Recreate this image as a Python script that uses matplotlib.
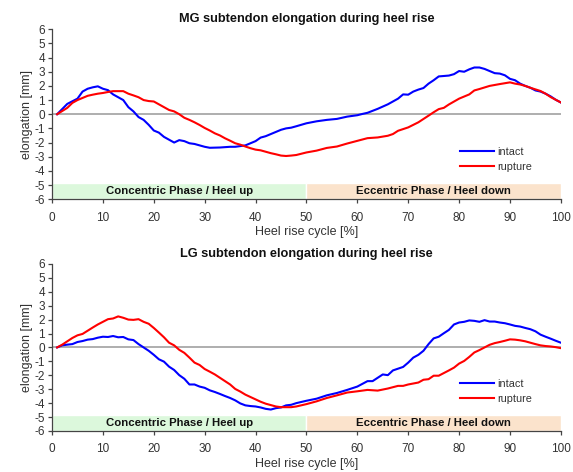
import matplotlib
matplotlib.use("Agg")
import matplotlib.pyplot as plt
from matplotlib.patches import Rectangle

plt.rcParams["font.family"] = ["Liberation Sans", "DejaVu Sans"]
plt.rcParams["axes.unicode_minus"] = False

# ── MG subtendon ──
mg_intact_x = [1, 3, 5, 6, 7, 8, 9, 10, 11, 12, 13, 14, 15, 16, 17, 18, 19, 20,
               21, 22, 23, 24, 25, 26, 27, 28, 29, 30, 31, 33, 35,
               36, 37, 38, 39, 40, 41, 42, 43, 44, 45, 46, 47, 48,
               50, 52, 54, 56, 58, 60, 61, 62, 64, 66, 68,
               69, 70, 71, 72, 73, 74, 75, 76, 77, 78, 79, 80, 81, 82, 83, 84,
               85, 86, 87, 88, 89, 90, 91, 92, 93, 94, 95, 96, 97, 98, 99, 100]
mg_intact_y = [0, 0.73, 1.1, 1.6, 1.8, 1.9, 1.97, 1.8, 1.7, 1.4, 1.2, 1.0, 0.5, 0.2,
               -0.2, -0.4, -0.75, -1.15, -1.3, -1.6, -1.8, -2.0, -1.83, -1.9, -2.05,
               -2.1, -2.2, -2.3, -2.37, -2.35, -2.3,
               -2.3, -2.25, -2.2, -2.05, -1.9, -1.65, -1.55, -1.4, -1.25, -1.1, -1.0,
               -0.95, -0.85,
               -0.64, -0.5, -0.4, -0.33, -0.17, -0.07, 0.02, 0.1, 0.38, 0.7, 1.1,
               1.4, 1.38, 1.6, 1.74, 1.85, 2.16, 2.4, 2.67, 2.7, 2.73, 2.83, 3.05,
               3.0, 3.17, 3.3, 3.3, 3.2, 3.05, 2.9, 2.87, 2.75, 2.5, 2.4, 2.16, 2.0,
               1.87, 1.68, 1.6, 1.45, 1.26, 1.02, 0.83]

mg_rupture_x = [1, 3] + list(range(4, 49)) + [
    50, 52, 54, 56, 58, 60, 62, 64, 66, 67, 68, 70, 72, 74, 75, 76, 77, 78, 80,
    82, 83, 84, 86, 88, 90, 91, 92, 93, 94, 96, 97, 98, 100]
mg_rupture_y = [0, 0.45,
                0.8, 1.0, 1.15, 1.3, 1.38, 1.45, 1.5, 1.57, 1.63, 1.63, 1.63, 1.45,
                1.33, 1.2, 1.0, 0.93, 0.9, 0.7, 0.5, 0.3, 0.2, 0, -0.25, -0.4, -0.57,
                -0.76, -0.97, -1.15, -1.35, -1.5, -1.7, -1.87, -2.05, -2.15, -2.28,
                -2.4, -2.5, -2.55, -2.65, -2.75, -2.83, -2.92, -2.95, -2.92, -2.88,
                -2.7, -2.57, -2.38, -2.28, -2.07, -1.88, -1.69, -1.64, -1.52, -1.4,
                -1.17, -0.93, -0.57, -0.1, 0.14, 0.36, 0.45, 0.69, 1.1, 1.4, 1.68,
                1.78, 2.0, 2.13, 2.25, 2.16, 2.1, 2.0, 1.87, 1.64, 1.45, 1.21, 0.83]

# ── LG subtendon ──
lg_intact_x = list(range(1, 49)) + [50, 52, 54, 56, 58, 60, 62, 63, 65, 66, 67, 69] \
    + list(range(70, 101))
lg_intact_y = [0, 0.15, 0.2, 0.24, 0.39, 0.46, 0.56, 0.6, 0.7, 0.77, 0.75, 0.82,
               0.73, 0.75, 0.58, 0.53, 0.24, 0, -0.24, -0.53, -0.85, -1.02, -1.38,
               -1.62, -1.99, -2.25, -2.66, -2.66, -2.81, -2.9, -3.08, -3.2, -3.34,
               -3.49, -3.63, -3.8, -4.02, -4.16, -4.21, -4.24, -4.31, -4.41, -4.46,
               -4.36, -4.31, -4.16, -4.12, -4.0,
               -3.83, -3.68, -3.44, -3.27, -3.05, -2.81, -2.42, -2.42, -1.94, -1.99,
               -1.65, -1.4,
               -1.09, -0.73, -0.53, -0.24, 0.24, 0.65, 0.77, 1.02, 1.26, 1.65, 1.79,
               1.84, 1.94, 1.91, 1.84, 1.96, 1.86, 1.86, 1.79, 1.74, 1.65, 1.55, 1.5,
               1.4, 1.31, 1.16, 0.92, 0.77, 0.63, 0.48, 0.34]

lg_rupture_x = list(range(1, 49)) + [50, 52, 54, 56, 58, 60, 62, 64, 66, 68, 69, 70,
                                     72, 73, 74, 75, 76] + list(range(78, 101))
lg_rupture_y = [0, 0.2, 0.44, 0.68, 0.87, 0.97, 1.2, 1.43, 1.65, 1.84, 2.03, 2.08,
                2.23, 2.13, 2.0, 1.98, 2.03, 1.84, 1.7, 1.4, 1.07, 0.73, 0.34, 0.15,
                -0.17, -0.39, -0.73, -1.09, -1.26, -1.55, -1.74, -1.94, -2.18, -2.42,
                -2.66, -2.98, -3.17, -3.39, -3.56, -3.73, -3.9, -4.04, -4.14, -4.24,
                -4.29, -4.29, -4.29, -4.24,
                -4.07, -3.87, -3.63, -3.44, -3.24, -3.15, -3.05, -3.1, -2.95, -2.76,
                -2.76, -2.66, -2.52, -2.32, -2.28, -2.03, -2.03,
                -1.65, -1.45, -1.16, -0.97, -0.68, -0.36, -0.19, 0, 0.19, 0.31, 0.39,
                0.48, 0.58, 0.56, 0.51, 0.44, 0.34, 0.24, 0.15, 0.1, 0.07, 0.02, -0.05]

titles = ["MG subtendon elongation during heel rise",
          "LG subtendon elongation during heel rise"]
phase_labels = ["Concentric Phase / Heel up", "Eccentric Phase / Heel down"]
phase_spans = [(0, 50), (50, 100)]
phase_colors = ["#dcf8dc", "#fbe3cc"]

TXT = "#333333"


def draw_panel(ax, title, ix, iy, rx, ry):
    band_lo, band_hi = -6, -4.85
    for (a, b), col, lab in zip(phase_spans, phase_colors, phase_labels):
        ax.add_patch(Rectangle((a, band_lo), b - a, band_hi - band_lo,
                               facecolor=col, edgecolor="white", lw=1.0, zorder=1))
        ax.text((a + b) / 2, (band_lo + band_hi) / 2, lab, ha="center", va="center",
                fontsize=8.2, fontweight="bold", color="#111111", zorder=2)
    ax.axhline(0, color="#a8a8a8", lw=1.3, zorder=2)
    ax.plot(ix, iy, color="#0000ff", lw=1.5, label="intact", zorder=3)
    ax.plot(rx, ry, color="#ff0000", lw=1.5, label="rupture", zorder=3)

    ax.set_xlim(0, 100)
    ax.set_ylim(-6, 6)
    ax.set_xticks(range(0, 101, 10))
    ax.set_yticks(range(-6, 7))
    ax.spines["top"].set_visible(False)
    ax.spines["right"].set_visible(False)
    for s in ("left", "bottom"):
        ax.spines[s].set_color("#444444")
        ax.spines[s].set_linewidth(0.9)
    ax.tick_params(direction="out", length=3, width=0.9, color="#444444",
                   labelsize=8.5, labelcolor=TXT, pad=2)
    ax.tick_params(axis="x", pad=6)
    ax.set_title(title, fontsize=9.2, fontweight="bold", color="#111111", pad=5)
    ax.set_xlabel("Heel rise cycle [%]", fontsize=9, color=TXT, labelpad=2)
    ax.set_ylabel("elongation [mm]", fontsize=9, color=TXT, labelpad=1)
    ax.legend(loc="lower right", bbox_to_anchor=(0.955, 0.13), frameon=False,
              fontsize=7.8, handlelength=3.2, handletextpad=0.3, labelspacing=0.45,
              borderpad=0, labelcolor=TXT)


fig = plt.figure(figsize=(5.73, 4.72), dpi=100)
ax1 = fig.add_axes([0.0908, 0.578, 0.888, 0.360])
ax2 = fig.add_axes([0.0908, 0.0869, 0.888, 0.354])
draw_panel(ax1, titles[0], mg_intact_x, mg_intact_y, mg_rupture_x, mg_rupture_y)
draw_panel(ax2, titles[1], lg_intact_x, lg_intact_y, lg_rupture_x, lg_rupture_y)

fig.savefig("out.png", dpi=100)
